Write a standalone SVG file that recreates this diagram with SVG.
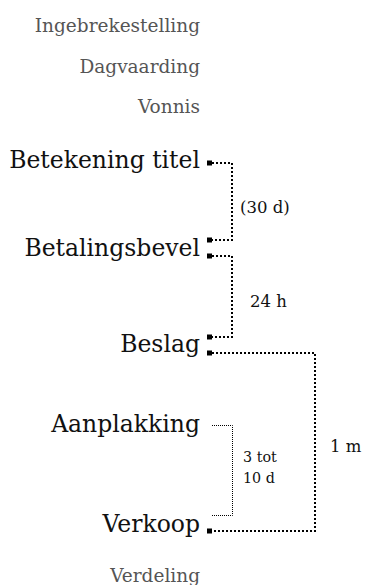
<svg xmlns="http://www.w3.org/2000/svg" width="366" height="585" viewBox="0 0 366 585">
<style>
text{font-family:"DejaVu Serif","Liberation Serif",serif}
.pre{font-size:18.5px;fill:#555;text-anchor:end}
.main{font-size:23.5px;fill:#111;text-anchor:end}
.lbl{font-size:16.5px;fill:#111}
.sm{font-size:14.3px;fill:#111}
.thick{fill:none;stroke:#000;stroke-width:2;stroke-dasharray:2 2}
.thin{fill:none;stroke:#000;stroke-width:1;stroke-dasharray:1 1}
.mk{fill:#000}
</style>
<rect width="366" height="585" fill="#fff"/>
<g id="ingebrekestelling"><text class="pre" x="200" y="32">Ingebrekestelling</text></g>
<g id="dagvaarding"><text class="pre" x="200" y="73">Dagvaarding</text></g>
<g id="vonnis"><text class="pre" x="200" y="113">Vonnis</text></g>
<g id="betekening"><text class="main" x="200" y="168">Betekening titel</text><rect class="mk" x="207" y="160.5" width="5" height="5"/></g>
<g id="betalingsbevel"><text class="main" x="200" y="256">Betalingsbevel</text><rect class="mk" x="207" y="237.5" width="5" height="5"/><rect class="mk" x="207" y="253.5" width="5" height="5"/></g>
<g id="beslag"><text class="main" x="200" y="352">Beslag</text><rect class="mk" x="207" y="334.5" width="5" height="5"/><rect class="mk" x="207" y="350.5" width="5" height="5"/></g>
<g id="aanplakking"><text class="main" x="200" y="432">Aanplakking</text></g>
<g id="verkoop"><text class="main" x="200" y="532">Verkoop</text><rect class="mk" x="207" y="528.5" width="5" height="5"/></g>
<g id="verdeling"><text class="pre" x="200" y="582">Verdeling</text></g>
<g id="connectors">
<path class="thick" d="M212 163H232V240H212"/>
<path class="thick" d="M212 256H232V337H212"/>
<path class="thick" d="M212 353H315V531H212"/>
<path class="thin" d="M212 425.5H232.5V515.5H212"/>
<text class="lbl" x="240" y="213">(30 d)</text>
<text class="lbl" x="250" y="307">24 h</text>
<text class="sm" x="243" y="462">3 tot</text>
<text class="sm" x="243" y="483">10 d</text>
<text class="lbl" x="330" y="452">1 m</text>
</g>
</svg>
